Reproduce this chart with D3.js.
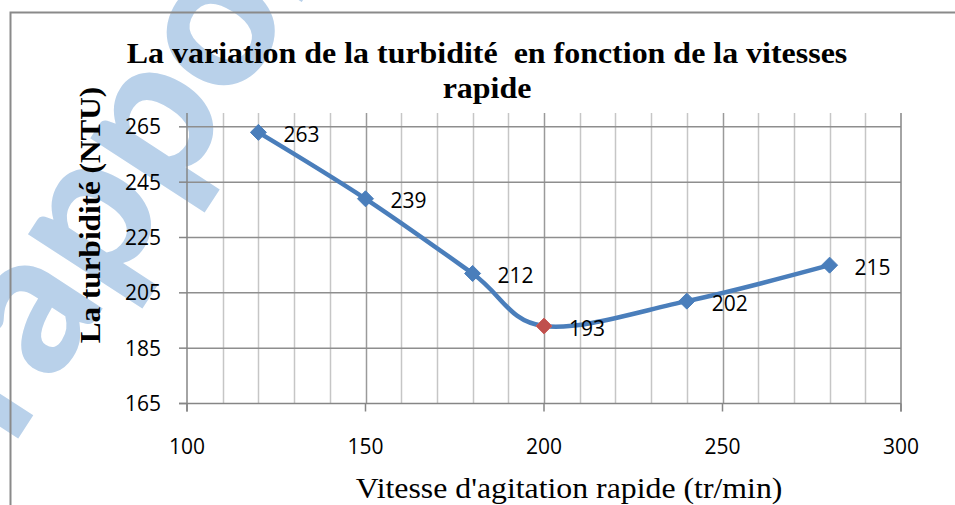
<!DOCTYPE html>
<html>
<head>
<meta charset="utf-8">
<script src="https://cdn.jsdelivr.net/npm/d3@7"></script>
<style>
  html, body { margin: 0; padding: 0; background: #fff; }
  svg { display: block; }
  .tick-label { font-family: "Open Sans", "Noto Sans", sans-serif; font-size: 21px; fill: #000; }
  .serif { font-family: "Liberation Serif", "DejaVu Serif", serif; fill: #000; }
</style>
</head>
<body>
<svg id="chart" width="955" height="505"></svg>
<script>
// data
var speeds = [120, 150, 180, 200, 240, 280];
var turbidity = [263, 239, 212, 193, 202, 215];
var highlight = [false, false, false, true, false, false];
var xTicks = [100, 150, 200, 250, 300];
var yTicks = [165, 185, 205, 225, 245, 265];
var titleLines = ["La variation de la turbidité\u00a0 en fonction de la vitesses", "rapide"];
var xTitle = "Vitesse d'agitation rapide (tr/min)";
var yTitle = "La turbidité (NTU)";

var svg = d3.select("#chart");

var margin = {top: 113, left: 187, right: 901, bottom: 403.5};
var x = d3.scaleLinear().domain([100, 300]).range([margin.left, margin.right]);
var y = d3.scaleLinear().domain([165, 270]).range([margin.bottom, margin.top]);

var blue = "#4a7ebb", red = "#c0504d";

// watermark behind the chart
svg.append("text")
  .attr("transform", "translate(12,448) rotate(-57)")
  .attr("font-family", "Lato, 'Liberation Sans', sans-serif")
  .attr("font-weight", 900)
  .attr("font-size", 200)
  .attr("fill", "#b9d1ea")
  .text("rapport");

// chart area border, cut by the window
svg.append("rect")
  .attr("x", 10.5).attr("y", 12.5)
  .attr("width", 1000).attr("height", 600)
  .attr("fill", "none")
  .attr("stroke", "#8a8a8a")
  .attr("stroke-width", 2);

var g = svg.append("g");

// vertical gridlines every 10, darker every 50
var minorX = d3.range(110, 300, 10);
g.selectAll("line.vx").data(minorX).enter().append("line")
  .attr("class", "vx")
  .attr("x1", d => Math.round(x(d)) + 0.5).attr("x2", d => Math.round(x(d)) + 0.5)
  .attr("y1", margin.top).attr("y2", margin.bottom)
  .attr("stroke", d => d % 50 === 0 ? "#9a9a9a" : "#c6c6c6")
  .attr("stroke-width", 1.5);

// horizontal gridlines
g.selectAll("line.hy").data(yTicks.slice(1)).enter().append("line")
  .attr("class", "hy")
  .attr("x1", margin.left).attr("x2", margin.right)
  .attr("y1", d => y(d)).attr("y2", d => y(d))
  .attr("stroke", "#8e8e8e")
  .attr("stroke-width", 1.5);

// axes
var axisColor = "#868686";
g.append("line")
  .attr("x1", margin.left).attr("x2", margin.left)
  .attr("y1", margin.top).attr("y2", margin.bottom + 8)
  .attr("stroke", axisColor).attr("stroke-width", 1.5);
g.append("line")
  .attr("x1", margin.right).attr("x2", margin.right)
  .attr("y1", margin.top).attr("y2", margin.bottom + 8)
  .attr("stroke", axisColor).attr("stroke-width", 1.5);
g.append("line")
  .attr("x1", margin.left - 8).attr("x2", margin.right)
  .attr("y1", margin.bottom).attr("y2", margin.bottom)
  .attr("stroke", axisColor).attr("stroke-width", 1.5);

g.selectAll("line.yt").data(yTicks).enter().append("line")
  .attr("class", "yt")
  .attr("x1", margin.left - 8).attr("x2", margin.left)
  .attr("y1", d => y(d)).attr("y2", d => y(d))
  .attr("stroke", axisColor).attr("stroke-width", 1.5);

g.selectAll("line.xt").data(xTicks).enter().append("line")
  .attr("class", "xt")
  .attr("x1", d => x(d)).attr("x2", d => x(d))
  .attr("y1", margin.bottom).attr("y2", margin.bottom + 8)
  .attr("stroke", axisColor).attr("stroke-width", 1.5);

// tick labels
g.selectAll("text.yl").data(yTicks).enter().append("text")
  .attr("class", "tick-label yl")
  .attr("x", 161)
  .attr("y", d => y(d))
  .attr("dy", "0.36em")
  .attr("text-anchor", "end")
  .text(d => d);

g.selectAll("text.xl").data(xTicks).enter().append("text")
  .attr("class", "tick-label xl")
  .attr("x", d => x(d))
  .attr("y", 454)
  .attr("text-anchor", "middle")
  .text(d => d);

// smoothed line
var pts = speeds.map((s, i) => ({x: s, y: turbidity[i], hl: highlight[i]}));
var line = d3.line()
  .x(d => x(d.x))
  .y(d => y(d.y))
  .curve(d3.curveCardinal.tension(0));

g.append("path")
  .datum(pts)
  .attr("fill", "none")
  .attr("stroke", blue)
  .attr("stroke-width", 4.5)
  .attr("stroke-linejoin", "round")
  .attr("d", line);

// diamond markers
g.selectAll("path.mk").data(pts).enter().append("path")
  .attr("class", "mk")
  .attr("transform", d => "translate(" + x(d.x) + "," + y(d.y) + ")")
  .attr("d", "M0,-8L8,0L0,8L-8,0Z")
  .attr("fill", d => d.hl ? red : blue)
  .attr("stroke", d => d.hl ? "#c8625f" : blue)
  .attr("stroke-width", 1);

// data labels
g.selectAll("text.dl").data(pts).enter().append("text")
  .attr("class", "tick-label dl")
  .attr("x", d => x(d.x) + 25)
  .attr("y", d => y(d.y) + 2)
  .attr("dy", "0.36em")
  .text(d => d.y);

// titles (source picture is a little wider than the fonts, stretch x a bit)
var title = svg.append("text")
  .attr("class", "serif")
  .attr("font-weight", "bold")
  .attr("font-size", 30)
  .attr("text-anchor", "middle")
  .attr("transform", "translate(487,0) scale(1.065,1)");
title.selectAll("tspan").data(titleLines).enter().append("tspan")
  .attr("x", 0)
  .attr("y", (d, i) => 63 + i * 35)
  .text(d => d);

svg.append("text")
  .attr("class", "serif")
  .attr("font-size", 30)
  .attr("text-anchor", "middle")
  .attr("transform", "translate(569,498) scale(1.06,1)")
  .text(xTitle);

svg.append("text")
  .attr("class", "serif")
  .attr("font-weight", "bold")
  .attr("font-size", 30)
  .attr("text-anchor", "middle")
  .attr("transform", "translate(100,215) rotate(-90) scale(1.04,1)")
  .text(yTitle);
</script>
</body>
</html>
